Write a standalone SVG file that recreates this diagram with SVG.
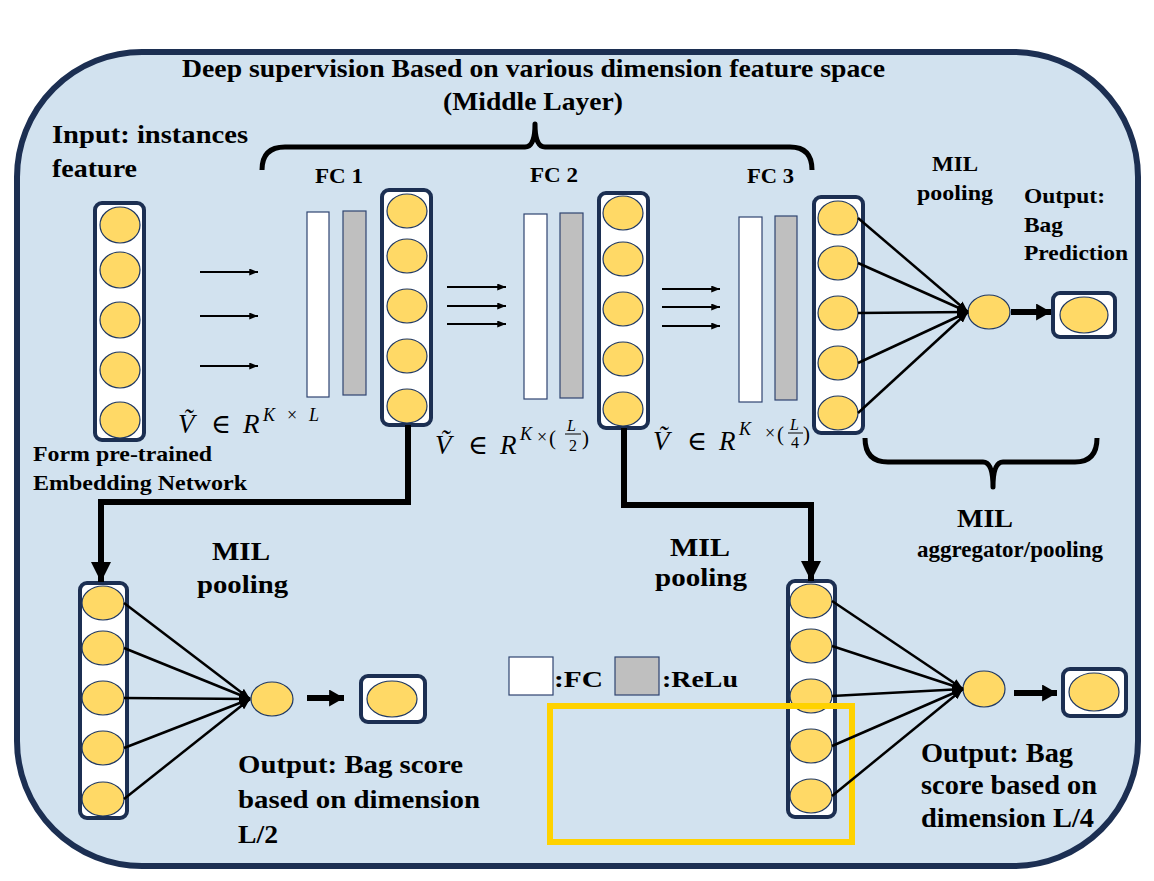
<svg xmlns="http://www.w3.org/2000/svg" width="1154" height="881" viewBox="0 0 1154 881">
<defs>
<style>
.t{font-family:"Liberation Serif","Times New Roman",serif;font-weight:bold;fill:#000}
.m{font-family:"Liberation Serif","DejaVu Serif",serif;font-style:italic;fill:#000}
.mu{font-family:"Liberation Serif","DejaVu Serif",serif;fill:#000}
.col{fill:#fff;stroke:#1c2f52;stroke-width:4}
.ne{fill:#ffd966;stroke:#1f3864;stroke-width:1.2}
.fc{fill:#fff;stroke:#2f4470;stroke-width:1.2}
.relu{fill:#bfbfbf;stroke:#2f4470;stroke-width:1.2}
.thin{stroke:#000;stroke-width:2;fill:none}
.fan{stroke:#000;stroke-width:2.5;fill:none}
.thick{stroke:#000;stroke-width:6;fill:none}
.brace{stroke:#000;stroke-width:5;fill:none;stroke-linejoin:round}
</style>
<marker id="ah" viewBox="0 0 10 8" refX="10" refY="4" markerWidth="9" markerHeight="7" markerUnits="userSpaceOnUse" orient="auto"><path d="M0,0 L10,4 L0,8 Z" fill="#000"/></marker>
<marker id="ahf" viewBox="0 0 10 8" refX="10" refY="4" markerWidth="11" markerHeight="9" markerUnits="userSpaceOnUse" orient="auto"><path d="M0,0 L10,4 L0,8 Z" fill="#000"/></marker>
<marker id="ahb" viewBox="0 0 14 16" refX="14" refY="8" markerWidth="15" markerHeight="17" markerUnits="userSpaceOnUse" orient="auto"><path d="M0,0 L14,8 L0,16 Z" fill="#000"/></marker>
<marker id="ahc" viewBox="0 0 20 20" refX="20" refY="10" markerWidth="20" markerHeight="20" markerUnits="userSpaceOnUse" orient="auto"><path d="M0,0 L20,10 L0,20 Z" fill="#000"/></marker>
</defs>

<rect id="frame" x="17" y="52" width="1121" height="814" rx="125" ry="125" fill="#d2e2ef" stroke="#1c2f52" stroke-width="6"/>

<g id="titles">
<text class="t" x="182" y="77" font-size="26" textLength="703" lengthAdjust="spacingAndGlyphs">Deep supervision Based on various dimension feature space</text>
<text class="t" x="443" y="110" font-size="26" textLength="180" lengthAdjust="spacingAndGlyphs">(Middle Layer)</text>
<path class="brace" d="M262,170 Q262,147 285,147 L525,147 Q535,147 535,124 Q535,147 545,147 L790,147 Q812,147 812,170"/>
</g>

<g id="input">
<text class="t" x="52" y="143" font-size="26" textLength="196" lengthAdjust="spacingAndGlyphs">Input: instances</text>
<text class="t" x="52" y="177" font-size="26" textLength="85" lengthAdjust="spacingAndGlyphs">feature</text>
<rect class="col" x="95" y="203" width="49" height="237" rx="7"/>
<ellipse class="ne" cx="120" cy="225" rx="20" ry="18"/>
<ellipse class="ne" cx="120" cy="270" rx="20" ry="18"/>
<ellipse class="ne" cx="120" cy="320" rx="20" ry="18"/>
<ellipse class="ne" cx="120" cy="370" rx="20" ry="18"/>
<ellipse class="ne" cx="120" cy="420" rx="20" ry="18"/>
<text class="t" x="33" y="461" font-size="21" textLength="179" lengthAdjust="spacingAndGlyphs">Form pre-trained</text>
<text class="t" x="33" y="490" font-size="21" textLength="214" lengthAdjust="spacingAndGlyphs">Embedding Network</text>
</g>

<g id="fc1">
<text class="t" x="315" y="183" font-size="20" textLength="48" lengthAdjust="spacingAndGlyphs">FC 1</text>
<rect class="fc" x="307" y="212" width="22" height="185"/>
<rect class="relu" x="343" y="211" width="23" height="184"/>
<rect class="col" x="382" y="190" width="49" height="235" rx="7"/>
<ellipse class="ne" cx="407" cy="211" rx="20" ry="17"/>
<ellipse class="ne" cx="407" cy="256" rx="20" ry="17"/>
<ellipse class="ne" cx="407" cy="306" rx="20" ry="17"/>
<ellipse class="ne" cx="407" cy="356" rx="20" ry="17"/>
<ellipse class="ne" cx="407" cy="406" rx="20" ry="17"/>
<text class="m" x="178" y="433" font-size="27">Ṽ</text>
<text class="mu" x="211" y="433" font-size="27">∈</text>
<text class="m" x="243" y="433" font-size="27">R</text>
<text class="m" x="263" y="421" font-size="18">K</text>
<text class="mu" x="287" y="421" font-size="18">×</text>
<text class="m" x="309" y="421" font-size="18">L</text>
</g>

<g id="fc2">
<text class="t" x="530" y="182" font-size="20" textLength="48" lengthAdjust="spacingAndGlyphs">FC 2</text>
<rect class="fc" x="524" y="214" width="23" height="185"/>
<rect class="relu" x="560" y="213" width="23" height="185"/>
<rect class="col" x="599" y="193" width="49" height="235" rx="7"/>
<ellipse class="ne" cx="623" cy="213" rx="20" ry="17"/>
<ellipse class="ne" cx="623" cy="259" rx="20" ry="17"/>
<ellipse class="ne" cx="623" cy="309" rx="20" ry="17"/>
<ellipse class="ne" cx="623" cy="359" rx="20" ry="17"/>
<ellipse class="ne" cx="623" cy="409" rx="20" ry="17"/>
<text class="m" x="435" y="454" font-size="27">Ṽ</text>
<text class="mu" x="468" y="454" font-size="27">∈</text>
<text class="m" x="500" y="454" font-size="27">R</text>
<text class="m" x="520" y="440" font-size="18">K</text>
<text class="mu" x="537" y="443" font-size="18">×</text>
<text class="mu" x="549" y="445" font-size="21">(</text>
<text class="m" x="567" y="431" font-size="16">L</text>
<line x1="565" y1="434" x2="581" y2="434" stroke="#000" stroke-width="1"/>
<text class="mu" x="569" y="451" font-size="16">2</text>
<text class="mu" x="582" y="445" font-size="21">)</text>
</g>

<g id="fc3">
<text class="t" x="747" y="183" font-size="20" textLength="47" lengthAdjust="spacingAndGlyphs">FC 3</text>
<rect class="fc" x="739" y="217" width="23" height="185"/>
<rect class="relu" x="775" y="216" width="22" height="184"/>
<rect class="col" x="814" y="197" width="49" height="236" rx="7"/>
<ellipse class="ne" cx="838" cy="218" rx="20" ry="17"/>
<ellipse class="ne" cx="838" cy="263" rx="20" ry="17"/>
<ellipse class="ne" cx="838" cy="313" rx="20" ry="17"/>
<ellipse class="ne" cx="838" cy="363" rx="20" ry="17"/>
<ellipse class="ne" cx="838" cy="413" rx="20" ry="17"/>
<text class="m" x="653" y="450" font-size="27">Ṽ</text>
<text class="mu" x="687" y="450" font-size="27">∈</text>
<text class="m" x="719" y="450" font-size="27">R</text>
<text class="m" x="739" y="435" font-size="18">K</text>
<text class="mu" x="765" y="439" font-size="18">×</text>
<text class="mu" x="777" y="441" font-size="21">(</text>
<text class="m" x="790" y="430" font-size="16">L</text>
<line x1="788" y1="433" x2="803" y2="433" stroke="#000" stroke-width="1"/>
<text class="mu" x="791" y="448" font-size="16">4</text>
<text class="mu" x="803" y="441" font-size="21">)</text>
</g>

<g id="pool-top">
<text class="t" x="932" y="171" font-size="21" textLength="46" lengthAdjust="spacingAndGlyphs">MIL</text>
<text class="t" x="917" y="200" font-size="22" textLength="76" lengthAdjust="spacingAndGlyphs">pooling</text>
<ellipse class="ne" cx="989" cy="312" rx="21" ry="17"/>
</g>

<g id="out-top">
<text class="t" x="1024" y="203" font-size="22" textLength="81" lengthAdjust="spacingAndGlyphs">Output:</text>
<text class="t" x="1024" y="232" font-size="22" textLength="39" lengthAdjust="spacingAndGlyphs">Bag</text>
<text class="t" x="1024" y="260" font-size="22" textLength="104" lengthAdjust="spacingAndGlyphs">Prediction</text>
<rect class="col" x="1053" y="293" width="62" height="44" rx="7"/>
<ellipse class="ne" cx="1084" cy="315" rx="24" ry="18"/>
</g>

<g id="aggregator">
<path class="brace" d="M865,438 Q865,462 888,462 L983,462 Q993,462 993,487 Q993,462 1003,462 L1075,462 Q1097,462 1097,438"/>
<text class="t" x="957" y="527" font-size="26" textLength="56" lengthAdjust="spacingAndGlyphs">MIL</text>
<text class="t" x="917" y="557" font-size="24" textLength="186" lengthAdjust="spacingAndGlyphs">aggregator/pooling</text>
</g>

<g id="branch-left">
<text class="t" x="212" y="560" font-size="25" textLength="58" lengthAdjust="spacingAndGlyphs">MIL</text>
<text class="t" x="197" y="593" font-size="25" textLength="91" lengthAdjust="spacingAndGlyphs">pooling</text>
<rect class="col" x="80" y="583" width="47" height="235" rx="7"/>
<ellipse class="ne" cx="103" cy="603" rx="21" ry="17"/>
<ellipse class="ne" cx="103" cy="648" rx="21" ry="17"/>
<ellipse class="ne" cx="103" cy="698" rx="21" ry="17"/>
<ellipse class="ne" cx="103" cy="748" rx="21" ry="17"/>
<ellipse class="ne" cx="103" cy="799" rx="21" ry="17"/>
<ellipse class="ne" cx="272" cy="699" rx="21" ry="17"/>
<rect class="col" x="361" y="676" width="64" height="46" rx="7"/>
<ellipse class="ne" cx="392" cy="699" rx="25" ry="18"/>
<text class="t" x="238" y="773" font-size="26" textLength="225" lengthAdjust="spacingAndGlyphs">Output: Bag score</text>
<text class="t" x="238" y="808" font-size="26" textLength="242" lengthAdjust="spacingAndGlyphs">based on dimension</text>
<text class="t" x="238" y="843" font-size="26" textLength="40" lengthAdjust="spacingAndGlyphs">L/2</text>
</g>

<g id="branch-right">
<text class="t" x="670" y="556" font-size="25" textLength="60" lengthAdjust="spacingAndGlyphs">MIL</text>
<text class="t" x="655" y="586" font-size="25" textLength="92" lengthAdjust="spacingAndGlyphs">pooling</text>
<rect class="col" x="788" y="581" width="47" height="236" rx="7"/>
<ellipse class="ne" cx="811" cy="601" rx="21" ry="17"/>
<ellipse class="ne" cx="811" cy="646" rx="21" ry="17"/>
<ellipse class="ne" cx="811" cy="696" rx="21" ry="17"/>
<ellipse class="ne" cx="811" cy="746" rx="21" ry="17"/>
<ellipse class="ne" cx="811" cy="796" rx="21" ry="17"/>
<ellipse class="ne" cx="984" cy="689" rx="21" ry="18"/>
<rect class="col" x="1063" y="669" width="63" height="47" rx="7"/>
<ellipse class="ne" cx="1094" cy="692" rx="25" ry="19"/>
<text class="t" x="921" y="762" font-size="27" textLength="152" lengthAdjust="spacingAndGlyphs">Output: Bag</text>
<text class="t" x="921" y="794" font-size="27" textLength="176" lengthAdjust="spacingAndGlyphs">score based on</text>
<text class="t" x="921" y="827" font-size="27" textLength="173" lengthAdjust="spacingAndGlyphs">dimension L/4</text>
</g>

<g id="legend">
<rect x="509" y="657" width="44" height="38" fill="#fff" stroke="#2f4470" stroke-width="1.2"/>
<text class="t" x="554" y="687" font-size="24" textLength="49" lengthAdjust="spacingAndGlyphs">:FC</text>
<rect x="615" y="657" width="44" height="38" fill="#bfbfbf" stroke="#2f4470" stroke-width="1.2"/>
<text class="t" x="662" y="687" font-size="24" textLength="76" lengthAdjust="spacingAndGlyphs">:ReLu</text>
</g>

<rect id="highlight" x="550" y="706" width="302" height="136" fill="none" stroke="#ffd200" stroke-width="6"/>

<g id="connectors">
<line class="thin" x1="200" y1="272" x2="258" y2="272" marker-end="url(#ah)"/>
<line class="thin" x1="200" y1="316" x2="258" y2="316" marker-end="url(#ah)"/>
<line class="thin" x1="200" y1="366" x2="258" y2="366" marker-end="url(#ah)"/>
<line class="thin" x1="447" y1="287" x2="506" y2="287" marker-end="url(#ah)"/>
<line class="thin" x1="447" y1="306" x2="506" y2="306" marker-end="url(#ah)"/>
<line class="thin" x1="447" y1="324" x2="506" y2="324" marker-end="url(#ah)"/>
<line class="thin" x1="662" y1="289" x2="720" y2="289" marker-end="url(#ah)"/>
<line class="thin" x1="662" y1="307" x2="720" y2="307" marker-end="url(#ah)"/>
<line class="thin" x1="662" y1="326" x2="720" y2="326" marker-end="url(#ah)"/>

<line class="fan" x1="858" y1="218" x2="968" y2="312" marker-end="url(#ahf)"/>
<line class="fan" x1="858" y1="263" x2="968" y2="312" marker-end="url(#ahf)"/>
<line class="fan" x1="858" y1="313" x2="968" y2="312" marker-end="url(#ahf)"/>
<line class="fan" x1="858" y1="363" x2="968" y2="312" marker-end="url(#ahf)"/>
<line class="fan" x1="858" y1="413" x2="968" y2="312" marker-end="url(#ahf)"/>
<line class="thick" x1="1011" y1="312" x2="1051" y2="312" stroke-width="5" marker-end="url(#ahb)"/>

<line class="fan" x1="124" y1="603" x2="250" y2="699" marker-end="url(#ahf)"/>
<line class="fan" x1="124" y1="648" x2="250" y2="699" marker-end="url(#ahf)"/>
<line class="fan" x1="124" y1="698" x2="250" y2="699" marker-end="url(#ahf)"/>
<line class="fan" x1="124" y1="748" x2="250" y2="699" marker-end="url(#ahf)"/>
<line class="fan" x1="124" y1="799" x2="250" y2="699" marker-end="url(#ahf)"/>
<line class="thick" x1="307" y1="698" x2="344" y2="698" stroke-width="5" marker-end="url(#ahb)"/>

<line class="fan" x1="832" y1="601" x2="963" y2="689" marker-end="url(#ahf)"/>
<line class="fan" x1="832" y1="646" x2="963" y2="689" marker-end="url(#ahf)"/>
<line class="fan" x1="832" y1="696" x2="963" y2="689" marker-end="url(#ahf)"/>
<line class="fan" x1="832" y1="746" x2="963" y2="689" marker-end="url(#ahf)"/>
<line class="fan" x1="832" y1="796" x2="963" y2="689" marker-end="url(#ahf)"/>
<line class="thick" x1="1014" y1="693" x2="1057" y2="693" stroke-width="5" marker-end="url(#ahb)"/>

<path class="thick" d="M408,425 L408,502 L101,502 L101,582" marker-end="url(#ahc)"/>
<path class="thick" d="M624,428 L624,505 L811,505 L811,581" marker-end="url(#ahc)"/>
</g>
</svg>
